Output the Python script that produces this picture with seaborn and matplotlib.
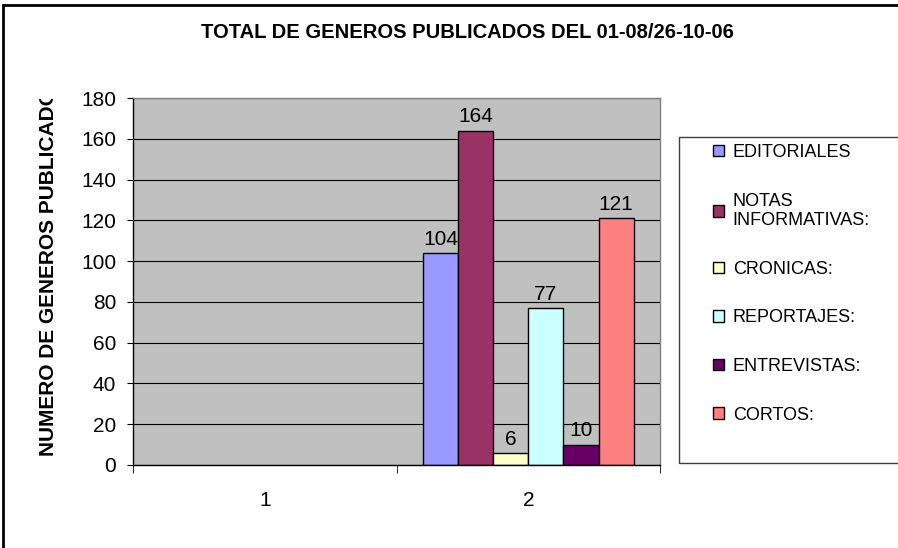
import pandas as pd
import matplotlib.pyplot as plt
import seaborn as sns
from matplotlib.patches import Patch, Rectangle
from matplotlib.transforms import Bbox, TransformedBbox

# Data
periodos = ["1", "2"]
generos = ["EDITORIALES", "NOTAS INFORMATIVAS:", "CRONICAS:", "REPORTAJES:",
           "ENTREVISTAS:", "CORTOS:"]
etiquetas_leyenda = ["EDITORIALES", "NOTAS\nINFORMATIVAS:", "CRONICAS:",
                     "REPORTAJES:", "ENTREVISTAS:", "CORTOS:"]
totales = [104, 164, 6, 77, 10, 121]
colores = ["#9999FF", "#993366", "#FFFFCC", "#CCFFFF", "#660066", "#FF8080"]
y_ticks = [0, 20, 40, 60, 80, 100, 120, 140, 160, 180]

# Only the second period has data
df = pd.DataFrame({"periodo": ["2"] * len(generos), "genero": generos, "total": totales})

plt.rcParams['font.family'] = ['Liberation Sans', 'DejaVu Sans']

fig = plt.figure(figsize=(8.98, 5.48), dpi=100)
ax = fig.add_axes([133 / 898, 1 - 465 / 548, 527 / 898, 367 / 548])
ax.set_facecolor("#C0C0C0")

sns.barplot(data=df, x="periodo", y="total", hue="genero", order=periodos,
            hue_order=generos, palette=dict(zip(generos, colores)),
            saturation=1, edgecolor="black", linewidth=1, width=0.8,
            legend=False, ax=ax)

for c in ax.containers:
    ax.bar_label(c, fontsize=15, padding=3)

# Axes styling, Excel look
ax.set_ylim(0, 180)
ax.set_xlim(-0.5, 1.5)
ax.set_yticks(y_ticks)
ax.set_axisbelow(True)
ax.yaxis.grid(True, color="black", linewidth=0.8)
ax.tick_params(axis="y", labelsize=15, length=4, pad=8, color="black")
ax.set_xticks([0, 1])
ax.set_xticklabels(periodos)
ax.set_xticks([-0.5, 0.5, 1.5], minor=True)
ax.tick_params(axis="x", which="major", length=0, labelsize=15, pad=19)
ax.tick_params(axis="x", which="minor", length=6, color="black")
ax.set_xlabel("")
ax.set_ylabel("")
for s in ["left", "bottom"]:
    ax.spines[s].set_color("black")
    ax.spines[s].set_linewidth(1)
for s in ["top", "right"]:
    ax.spines[s].set_color("#808080")
    ax.spines[s].set_linewidth(1)

# Title and clipped y label
fig.text(467 / 898, 1 - 33 / 548, "TOTAL DE GENEROS PUBLICADOS DEL 01-08/26-10-06",
         ha="center", va="center", fontsize=14.5, fontweight="bold")
ylab = fig.text(49 / 898, 1 - 456 / 548, "NUMERO DE GENEROS PUBLICADOS",
                rotation=90, ha="center", va="bottom", fontsize=15, fontweight="bold")
ylab.set_clip_box(TransformedBbox(Bbox([[0, 0], [1, 1 - 99 / 548]]), fig.transFigure))
ylab.set_clip_on(True)

# Legend with its own box
fig.patches.append(Rectangle((679 / 898, 1 - 463 / 548), 0.4, 326 / 548,
                             transform=fig.transFigure, fill=False,
                             edgecolor="#404040", linewidth=1))
handles = [Patch(facecolor=col, edgecolor="black", linewidth=1) for col in colores]
fig.legend(handles, etiquetas_leyenda, loc="upper left",
           bbox_to_anchor=(713 / 898, 1 - 144 / 548), frameon=False, fontsize=13,
           borderpad=0, borderaxespad=0, handlelength=0.6, handleheight=0.6,
           handletextpad=0.5, labelspacing=1.75)

# Outer chart border
fig.patches.append(Rectangle((3 / 898, -0.1), 1.2, 1.1 - 5 / 548,
                             transform=fig.transFigure, fill=False,
                             edgecolor="black", linewidth=2))

fig.savefig("out.png", dpi=100)
